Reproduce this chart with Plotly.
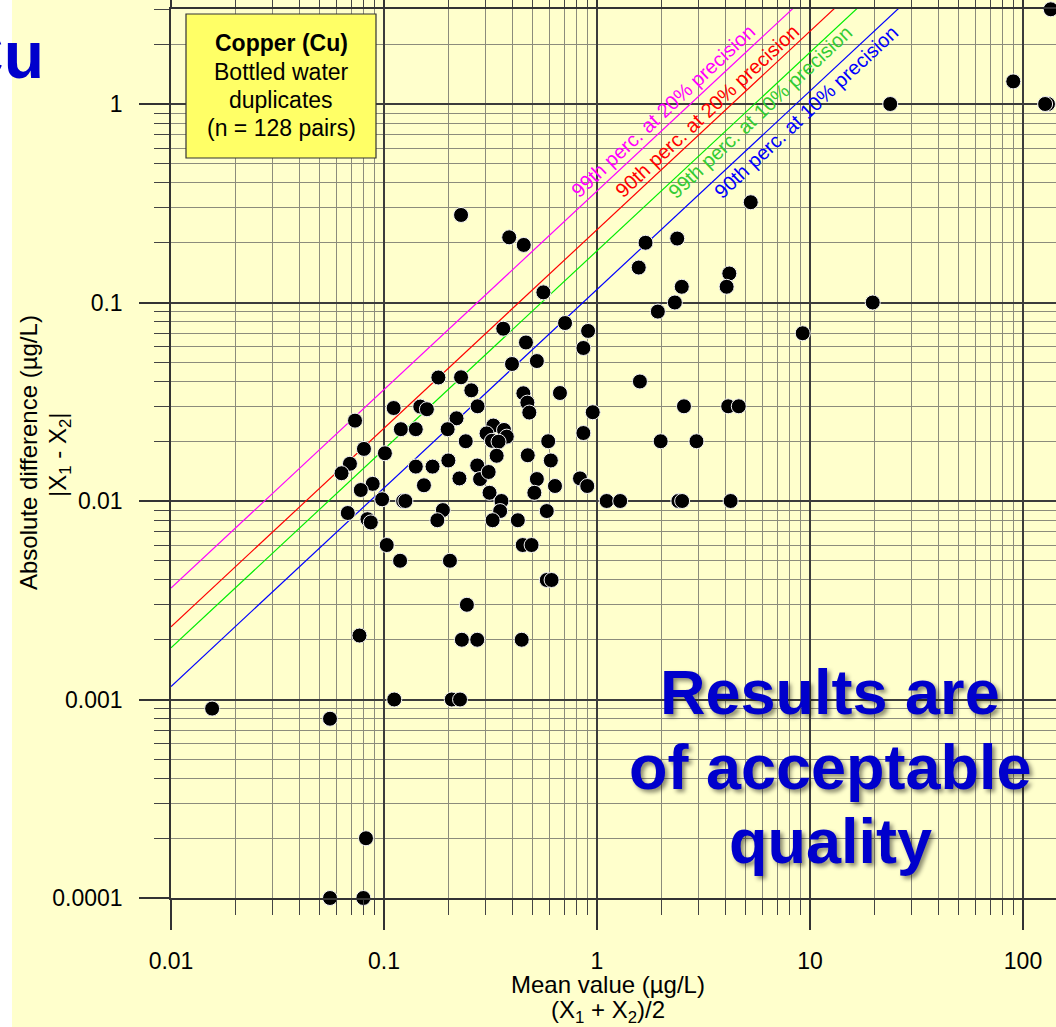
import plotly.graph_objects as go

# ---------------- data ----------------
mean_value = [
    135, 90, 23.8, 131, 127, 19.7, 9.24, 5.27, 4.18, 4.06,
    2.38, 1.69, 1.57, 2.50, 2.32, 1.93, 0.230, 0.387, 0.453, 0.560,
    0.363, 0.464, 0.708, 0.908, 0.863, 0.399, 0.522, 1.59, 0.180, 0.230,
    0.257, 0.451, 0.670, 0.111, 0.148, 0.159, 0.275, 0.471, 0.481, 0.955,
    0.0731, 0.219, 0.120, 0.141, 0.199, 0.326, 0.366, 0.303, 0.377, 0.321,
    0.345, 0.863, 0.590, 0.0805, 0.101, 0.242, 0.338, 0.473, 0.607, 0.0692,
    0.0632, 0.141, 0.169, 0.2005, 0.274, 0.2825, 0.310, 0.226, 0.522, 0.635,
    0.832, 0.900, 0.0885, 0.0778, 0.154, 0.508, 0.313, 0.098, 0.123, 0.126,
    0.356, 1.11, 1.285, 2.41, 2.51, 4.24, 0.351, 0.581, 0.189, 0.0676,
    0.0836, 0.0867, 0.178, 0.3236, 0.425, 0.103, 0.448, 0.493, 0.119, 0.204,
    0.581, 0.612, 0.245, 0.0767, 0.232, 0.274, 0.443, 0.1117, 0.208, 0.2275,
    0.0156, 0.0558, 0.0823, 0.0558, 0.080, 2.56, 4.13, 4.63, 1.99, 2.93,
]
abs_difference = [
    3.0, 1.3, 1.0, 1.0, 1.0, 0.10, 0.070, 0.32, 0.14, 0.12,
    0.21, 0.20, 0.15, 0.12, 0.10, 0.090, 0.276, 0.213, 0.195, 0.1125,
    0.0738, 0.0629, 0.0788, 0.0719, 0.059, 0.049, 0.0507, 0.040, 0.0419, 0.042,
    0.0361, 0.0349, 0.035, 0.0294, 0.0299, 0.029, 0.030, 0.0313, 0.0279, 0.028,
    0.0254, 0.0261, 0.023, 0.023, 0.023, 0.0240, 0.0228, 0.0219, 0.0211, 0.0201,
    0.0199, 0.022, 0.020, 0.0183, 0.0174, 0.020, 0.0169, 0.017, 0.016, 0.0154,
    0.0138, 0.0149, 0.0149, 0.016, 0.0151, 0.0129, 0.014, 0.013, 0.0129, 0.0119,
    0.013, 0.0119, 0.0122, 0.01136, 0.012, 0.011, 0.011, 0.0102, 0.010, 0.010,
    0.010, 0.010, 0.010, 0.010, 0.010, 0.010, 0.0089, 0.0089, 0.009, 0.0087,
    0.0081, 0.0078, 0.008, 0.008, 0.008, 0.006, 0.006, 0.006, 0.005, 0.005,
    0.004, 0.004, 0.003, 0.0021, 0.002, 0.002, 0.002, 0.001, 0.001, 0.001,
    0.0009, 0.0008, 0.0002, 0.0001, 0.0001, 0.030, 0.030, 0.030, 0.020, 0.020,
]

# precision control lines: |d| = slope * mean   (slopes)
line_names = ["99th perc. at 20% precision", "90th perc. at 20% precision",
              "99th perc. at 10% precision", "90th perc. at 10% precision"]
line_slopes = [0.3643, 0.2326, 0.1821, 0.1163]
line_colors = ["#FF00FF", "#FF0000", "#00EE00", "#0000FF"]
label_colors = ["#FF00FF", "#FF0000", "#33CC33", "#0000FF"]
line_x = [0.01, 150]

x_tick_vals = [0.01, 0.1, 1, 10, 100]
x_tick_text = ["0.01", "0.1", "1", "10", "100"]
y_tick_vals = [0.0001, 0.001, 0.01, 0.1, 1]
y_tick_text = ["0.0001", "0.001", "0.01", "0.1", "1"]

# ---------------- layout geometry ----------------
W, H = 1056, 1027
L, R, T, B = 171, 0, 9, 129
PW, PH = W - L - R, H - T - B


def px2x(px):
    return (px - L) / PW


def px2y(py):
    return (H - B - py) / PH


FONT = "Arial, 'Liberation Sans', sans-serif"
BG = "#FFFFCC"

fig = go.Figure()

for name, k, col in zip(line_names, line_slopes, line_colors):
    fig.add_trace(go.Scatter(
        x=line_x, y=[k * v for v in line_x], mode="lines",
        line=dict(color=col, width=1.2), name=name, hoverinfo="skip",
    ))

fig.add_trace(go.Scatter(
    x=mean_value, y=abs_difference, mode="markers", name="Duplicates",
    marker=dict(color="black", size=15, line=dict(color="#f4f4f4", width=1)),
    cliponaxis=False,
))

minor_vals_x = [m * 10 ** e for e in range(-2, 3) for m in range(2, 10)]
minor_vals_y = [m * 10 ** e for e in range(-4, 1) for m in range(2, 10)]

axis_common = dict(
    type="log", showgrid=True, gridcolor="#3c3c3c", gridwidth=1.5,
    ticks="outside", ticklen=30, tickcolor="#333", tickwidth=1.5,
    showline=True, linecolor="#333", linewidth=1.5, mirror="allticks",
    zeroline=False, tickfont=dict(family=FONT, size=23, color="black"),
    ticklabelstandoff=12, automargin=False,
)

fig.update_xaxes(
    range=[-2, 2.1549], tickmode="array", tickvals=x_tick_vals, ticktext=x_tick_text,
    minor=dict(tickmode="array", tickvals=minor_vals_x, ticks="outside", ticklen=15,
               tickcolor="#444", tickwidth=1, showgrid=True, gridcolor="#8c8c7c",
               gridwidth=1.3),
    **axis_common,
)
fig.update_yaxes(
    range=[-4, 0.4786], tickmode="array", tickvals=y_tick_vals, ticktext=y_tick_text,
    minor=dict(tickmode="array", tickvals=minor_vals_y, ticks="outside", ticklen=15,
               tickcolor="#444", tickwidth=1, showgrid=True, gridcolor="#8c8c7c",
               gridwidth=1.3),
    **axis_common,
)

shapes = [
    dict(type="rect", xref="paper", yref="paper", x0=px2x(-5), x1=px2x(12),
         y0=px2y(H + 5), y1=px2y(-5), fillcolor="white", line=dict(width=0),
         layer="below"),
    dict(type="rect", xref="paper", yref="paper", x0=px2x(186), x1=px2x(376),
         y0=px2y(158), y1=px2y(14), fillcolor="#FFFF66",
         line=dict(color="#333", width=1.2), layer="above"),
]

ann = []


def add_text(text, px, py, size, color="black", angle=0, xanchor="center", shadow=None):
    f = dict(family=FONT, size=size, color=color)
    if shadow:
        f["shadow"] = shadow
    ann.append(dict(text=text, x=px2x(px), y=px2y(py), xref="paper", yref="paper",
                    xanchor=xanchor, yanchor="middle", showarrow=False,
                    textangle=angle, font=f))


# big element label (partly cut at the left edge, as in the reference)
add_text("<b>Cu</b>", 46, 55, 66, color="#0000CC", xanchor="right")

# info box
add_text("<b>Copper (Cu)</b>", 281, 43, 23)
add_text("Bottled water", 281, 72, 23)
add_text("duplicates", 281, 100, 23)
add_text("(n = 128 pairs)", 281, 128, 23)

# precision line labels
for txt, col, (cx, cy) in zip(line_names, label_colors,
                              [(663, 111), (707, 111), (760, 112), (806, 112)]):
    add_text(txt, cx, cy, 20, color=col, angle=-43)

# verdict
sh = "3px 3px 4px rgba(0,0,0,0.45)"
add_text("<b>Results are</b>", 830, 692, 63, color="#0000CC", shadow=sh)
add_text("<b>of acceptable</b>", 830, 767, 63, color="#0000CC", shadow=sh)
add_text("<b>quality</b>", 830, 841, 63, color="#0000CC", shadow=sh)

# axis titles
add_text("Mean value (µg/L)", 608, 984, 24)
add_text("(X<sub>1</sub> + X<sub>2</sub>)/2", 608, 1012, 24)
add_text("Absolute difference (µg/L)", 28, 453, 24, angle=-90)
add_text("|X<sub>1</sub> - X<sub>2</sub>|", 59, 455, 24, angle=-90)

fig.update_layout(
    width=W, height=H, margin=dict(l=L, r=R, t=T, b=B, pad=0, autoexpand=False),
    paper_bgcolor=BG, plot_bgcolor=BG, showlegend=False,
    shapes=shapes, annotations=ann,
    font=dict(family=FONT, color="black"),
)

fig.write_html("out.html")
